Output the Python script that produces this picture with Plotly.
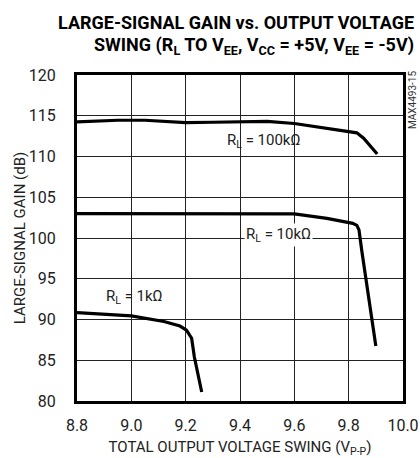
import plotly.graph_objects as go

# Data
x_100k = [8.80, 8.95, 9.05, 9.15, 9.20, 9.30, 9.50, 9.60, 9.72, 9.83, 9.855, 9.905]
g_100k = [114.25, 114.45, 114.45, 114.25, 114.15, 114.2, 114.3, 114.05, 113.45, 112.9, 112.25, 110.3]

x_10k = [8.80, 9.00, 9.30, 9.50, 9.60, 9.72, 9.815, 9.83, 9.838, 9.848, 9.90]
g_10k = [103.0, 103.0, 102.95, 103.0, 102.95, 102.4, 101.8, 101.55, 101.0, 98.5, 86.75]

x_1k = [8.80, 8.92, 9.00, 9.12, 9.179, 9.203, 9.222, 9.232, 9.259]
g_1k = [90.85, 90.65, 90.45, 89.75, 89.2, 88.7, 87.7, 85.4, 81.1]

x_ticks = [8.8, 9.0, 9.2, 9.4, 9.6, 9.8, 10.0]
x_tick_labels = ["8.8", "9.0", "9.2", "9.4", "9.6", "9.8", "10.0"]
y_ticks = [80, 85, 90, 95, 100, 105, 110, 115, 120]

FONT = "Roboto, Liberation Sans, sans-serif"

fig = go.Figure()
for xs, ys in [(x_100k, g_100k), (x_10k, g_10k), (x_1k, g_1k)]:
    fig.add_trace(go.Scatter(x=xs, y=ys, mode="lines",
                             line=dict(color="black", width=3.2),
                             showlegend=False, hoverinfo="skip"))

fig.update_layout(
    width=420, height=458,
    margin=dict(l=77, r=17, t=75, b=57),
    paper_bgcolor="white", plot_bgcolor="white",
    font=dict(family=FONT, size=15, color="#222"),
)
fig.update_xaxes(
    range=[8.8, 10.0], tickvals=x_ticks, ticktext=x_tick_labels,
    tickfont=dict(size=16),
    showgrid=True, gridcolor="#222", gridwidth=1,
    showline=True, linecolor="black", linewidth=3, mirror=True,
    ticks="", zeroline=False, ticklabelstandoff=8, automargin=False,
    title=dict(text="TOTAL OUTPUT VOLTAGE SWING (V<sub>P-P</sub>)", standoff=11,
               font=dict(size=15)),
)
fig.update_yaxes(
    range=[80, 120], tickvals=y_ticks,
    tickfont=dict(size=16),
    showgrid=True, gridcolor="#222", gridwidth=1,
    showline=True, linecolor="black", linewidth=3, mirror=True,
    ticks="", zeroline=False, ticklabelstandoff=15, automargin=False,
    title=dict(text="LARGE-SIGNAL GAIN (dB)", standoff=0, font=dict(size=15)),
)

# Curve labels
fig.add_annotation(x=9.485, y=111.9, text="R<sub>L</sub> = 100kΩ", showarrow=False,
                   font=dict(size=15))
fig.add_annotation(x=9.54, y=100.4, text="R<sub>L</sub> = 10kΩ", showarrow=False,
                   font=dict(size=15), bgcolor="white", borderpad=1)
fig.add_annotation(x=9.013, y=92.8, text="R<sub>L</sub> = 1kΩ", showarrow=False,
                   font=dict(size=15))

# Title
fig.add_annotation(xref="paper", yref="paper", x=1.04, y=1.0, yshift=52.5,
                   xanchor="right", yanchor="middle", showarrow=False,
                   text="<b>LARGE-SIGNAL GAIN vs. OUTPUT VOLTAGE</b>",
                   font=dict(size=18, color="black", family=FONT))
fig.add_annotation(xref="paper", yref="paper", x=1.04, y=1.0, yshift=29.5,
                   xanchor="right", yanchor="middle", showarrow=False,
                   text="<b>SWING (R<sub>L</sub> TO V<sub>EE</sub>, V<sub>CC</sub> = +5V, V<sub>EE</sub> = -5V)</b>",
                   font=dict(size=18, color="black", family=FONT))

# Figure code
fig.add_annotation(xref="paper", yref="paper", x=1.0, y=1.0, xshift=9, yshift=-25,
                   xanchor="center", yanchor="middle", showarrow=False, textangle=-90,
                   text="MAX4493-15", font=dict(size=10, color="#333"))

fig.write_html("out.html", config={"displayModeBar": False},
               post_script="document.body.style.margin='0';document.body.style.overflow='hidden';")
